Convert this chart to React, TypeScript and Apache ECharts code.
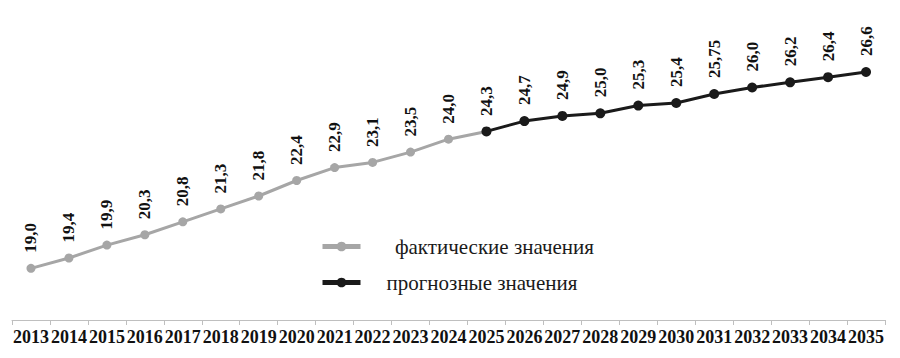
import React, { useEffect, useRef } from "react";
import * as echarts from "echarts";

const years = [
  "2013", "2014", "2015", "2016", "2017", "2018", "2019", "2020", "2021", "2022", "2023", "2024",
  "2025", "2026", "2027", "2028", "2029", "2030", "2031", "2032", "2033", "2034", "2035",
];
const actualValues: (number | null)[] = [
  19.0, 19.4, 19.9, 20.3, 20.8, 21.3, 21.8, 22.4, 22.9, 23.1, 23.5, 24.0, 24.3,
  null, null, null, null, null, null, null, null, null, null,
];
const forecastValues: (number | null)[] = [
  null, null, null, null, null, null, null, null, null, null, null, null, 24.3,
  24.7, 24.9, 25.0, 25.3, 25.4, 25.75, 26.0, 26.2, 26.4, 26.6,
];
const seriesNames = ["фактические значения", "прогнозные значения"];

const FONT = "Liberation Serif, serif";

const fmt = (v: number) =>
  (Math.abs(v * 10 - Math.round(v * 10)) < 1e-9 ? v.toFixed(1) : v.toFixed(2)).replace(".", ",");

export default function App() {
  const ref = useRef<HTMLDivElement>(null);
  useEffect(() => {
    if (!ref.current) return;
    const chart = echarts.init(ref.current, undefined, { renderer: "svg" });
    const labelBase = {
      show: true,
      position: "top",
      rotate: 90,
      align: "left",
      verticalAlign: "middle",
      distance: 11,
      fontFamily: FONT,
      fontWeight: "bold",
      fontSize: 17,
      color: "#111",
    };
    chart.setOption({
      animation: false,
      backgroundColor: "#ffffff",
      grid: { left: 12, right: 15, top: 10, bottom: 38, containLabel: false },
      legend: {
        orient: "vertical",
        left: 315,
        top: 231,
        itemWidth: 38,
        itemHeight: 12,
        itemGap: 15,
        lineStyle: { width: 5 },
        textStyle: {
          fontFamily: FONT,
          fontSize: 21,
          color: "#1a1a1a",
        },
        formatter: (name: string) =>
          (name === seriesNames[0] ? "\u2003\u2009\u2009" : "\u2003") + name,
        data: seriesNames,
      },
      xAxis: {
        type: "category",
        data: years,
        boundaryGap: true,
        axisLine: { lineStyle: { color: "#bfbfbf", width: 1 } },
        axisTick: { show: true, length: 5, lineStyle: { color: "#bfbfbf" } },
        axisLabel: {
          interval: 0,
          margin: 8,
          fontFamily: FONT,
          fontWeight: "bold",
          fontSize: 18,
          color: "#111",
        },
      },
      yAxis: {
        type: "value",
        min: 17,
        max: 29,
        show: false,
        splitLine: { show: false },
      },
      series: [
        {
          name: seriesNames[0],
          type: "line",
          data: actualValues,
          symbol: "circle",
          symbolSize: 9,
          lineStyle: { color: "#a6a6a6", width: 3 },
          itemStyle: { color: "#a6a6a6" },
          label: { ...labelBase, formatter: (p: any) => fmt(p.value) },
          z: 2,
        },
        {
          name: seriesNames[1],
          type: "line",
          data: forecastValues,
          symbol: "circle",
          symbolSize: 10,
          lineStyle: { color: "#1a1a1a", width: 3 },
          itemStyle: { color: "#1a1a1a" },
          label: {
            ...labelBase,
            formatter: (p: any) => (p.dataIndex === 12 ? "" : fmt(p.value)),
          },
          z: 3,
        },
      ],
    });
    return () => chart.dispose();
  }, []);
  return <div ref={ref} style={{ width: 900, height: 358, margin: -8 }} />;
}
